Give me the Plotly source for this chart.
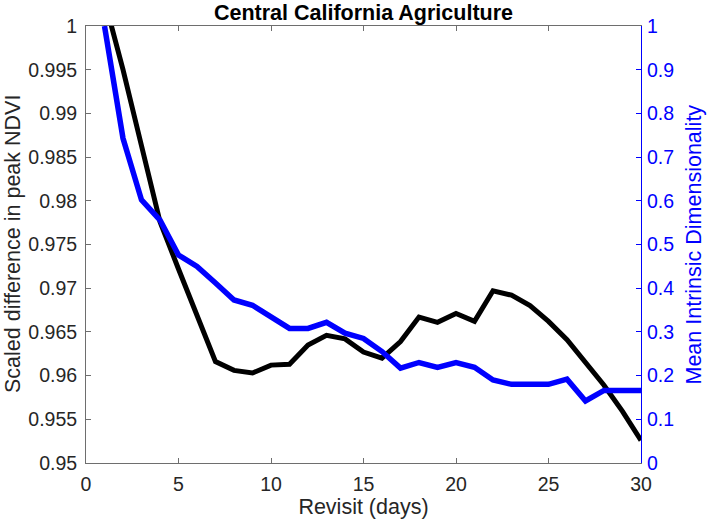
import plotly.graph_objects as go

days = list(range(1, 31))
ndvi = [1.003, 0.9950, 0.9863, 0.9776, 0.9722, 0.9669, 0.9616, 0.9606, 0.9603, 0.9612,
        0.9613, 0.9635, 0.9646, 0.9642, 0.9627, 0.9620, 0.9639, 0.9667, 0.9661, 0.9671,
        0.9662, 0.9697, 0.9692, 0.9680, 0.9662, 0.9641, 0.9616, 0.9589, 0.9559, 0.9526]
dim = [1.0, 0.743, 0.602, 0.556, 0.476, 0.450, 0.412, 0.373, 0.361, 0.335,
       0.308, 0.308, 0.322, 0.297, 0.285, 0.255, 0.217, 0.230, 0.219, 0.230,
       0.219, 0.190, 0.180, 0.180, 0.180, 0.192, 0.142, 0.166, 0.166, 0.166]

x_ticks = [0, 5, 10, 15, 20, 25, 30]
y_ticks = [0.95, 0.955, 0.96, 0.965, 0.97, 0.975, 0.98, 0.985, 0.99, 0.995, 1.0]
y_tick_labels = ["0.95", "0.955", "0.96", "0.965", "0.97", "0.975", "0.98", "0.985", "0.99", "0.995", "1"]
y2_ticks = [0, 0.1, 0.2, 0.3, 0.4, 0.5, 0.6, 0.7, 0.8, 0.9, 1.0]
y2_tick_labels = ["0", "0.1", "0.2", "0.3", "0.4", "0.5", "0.6", "0.7", "0.8", "0.9", "1"]

FONT = "Liberation Sans, Arial, sans-serif"
TXT = "rgb(38,38,38)"
AXC = "rgb(110,110,110)"
BLUE = "rgb(0,0,255)"
TICK_SIZE = 19.5
LABEL_SIZE = 21.5

W, H = 709, 525
ML, MR, MT, MB = 86, 68, 26, 62
PW = W - ML - MR

fig = go.Figure()
fig.add_trace(go.Scatter(x=days, y=ndvi, mode="lines",
                         line=dict(color="black", width=5), yaxis="y", showlegend=False,
                         hoverinfo="skip"))
fig.add_trace(go.Scatter(x=days, y=dim, mode="lines",
                         line=dict(color=BLUE, width=5.5), yaxis="y2", showlegend=False,
                         hoverinfo="skip"))

fig.update_layout(
    width=W, height=H,
    margin=dict(l=ML, r=MR, t=MT, b=MB),
    paper_bgcolor="white", plot_bgcolor="white",
    font=dict(family=FONT, size=TICK_SIZE, color=TXT),
    title=dict(text="<b>Central California Agriculture</b>", x=363.5 / W, xanchor="center",
               xref="container", yref="container", y=1 - 12.5 / H, yanchor="middle",
               font=dict(family=FONT, size=21.5, color="black")),
    xaxis=dict(range=[0, 30], tickvals=x_ticks, ticks="inside", ticklen=5, tickcolor=AXC,
               showline=True, linecolor=AXC, linewidth=1, mirror="ticks", showgrid=False,
               zeroline=False, tickfont=dict(size=TICK_SIZE, color=TXT), ticklabelstandoff=4,
               title=dict(text="Revisit (days)", font=dict(size=LABEL_SIZE, color=TXT), standoff=3)),
    yaxis=dict(range=[0.95, 1.0], tickvals=y_ticks, ticktext=y_tick_labels, ticks="inside",
               ticklen=5, tickcolor=AXC, showline=True, linecolor=AXC, linewidth=1,
               showgrid=False, zeroline=False, tickfont=dict(size=TICK_SIZE, color=TXT),
               ticklabelstandoff=4),
    yaxis2=dict(range=[0, 1.0], tickvals=y2_ticks, ticktext=y2_tick_labels, overlaying="y",
                side="right", ticks="inside", ticklen=5, tickcolor=BLUE, showline=True,
                linecolor=BLUE, linewidth=1, showgrid=False, zeroline=False,
                tickfont=dict(size=TICK_SIZE, color=BLUE), ticklabelstandoff=1),
    annotations=[
        dict(text="Scaled difference in peak NDVI", xref="paper", yref="paper",
             x=(12.5 - ML) / PW, y=0.5, xanchor="center", yanchor="middle", textangle=-90,
             showarrow=False, font=dict(family=FONT, size=LABEL_SIZE, color=TXT)),
        dict(text="Mean Intrinsic Dimensionality", xref="paper", yref="paper",
             x=(693 - ML) / PW, y=0.5, xanchor="center", yanchor="middle", textangle=-90,
             showarrow=False, font=dict(family=FONT, size=LABEL_SIZE, color=BLUE)),
    ],
)

fig.write_html("out.html", config={"displayModeBar": False},
               post_script="document.body.style.margin='0';document.body.style.padding='0';")
